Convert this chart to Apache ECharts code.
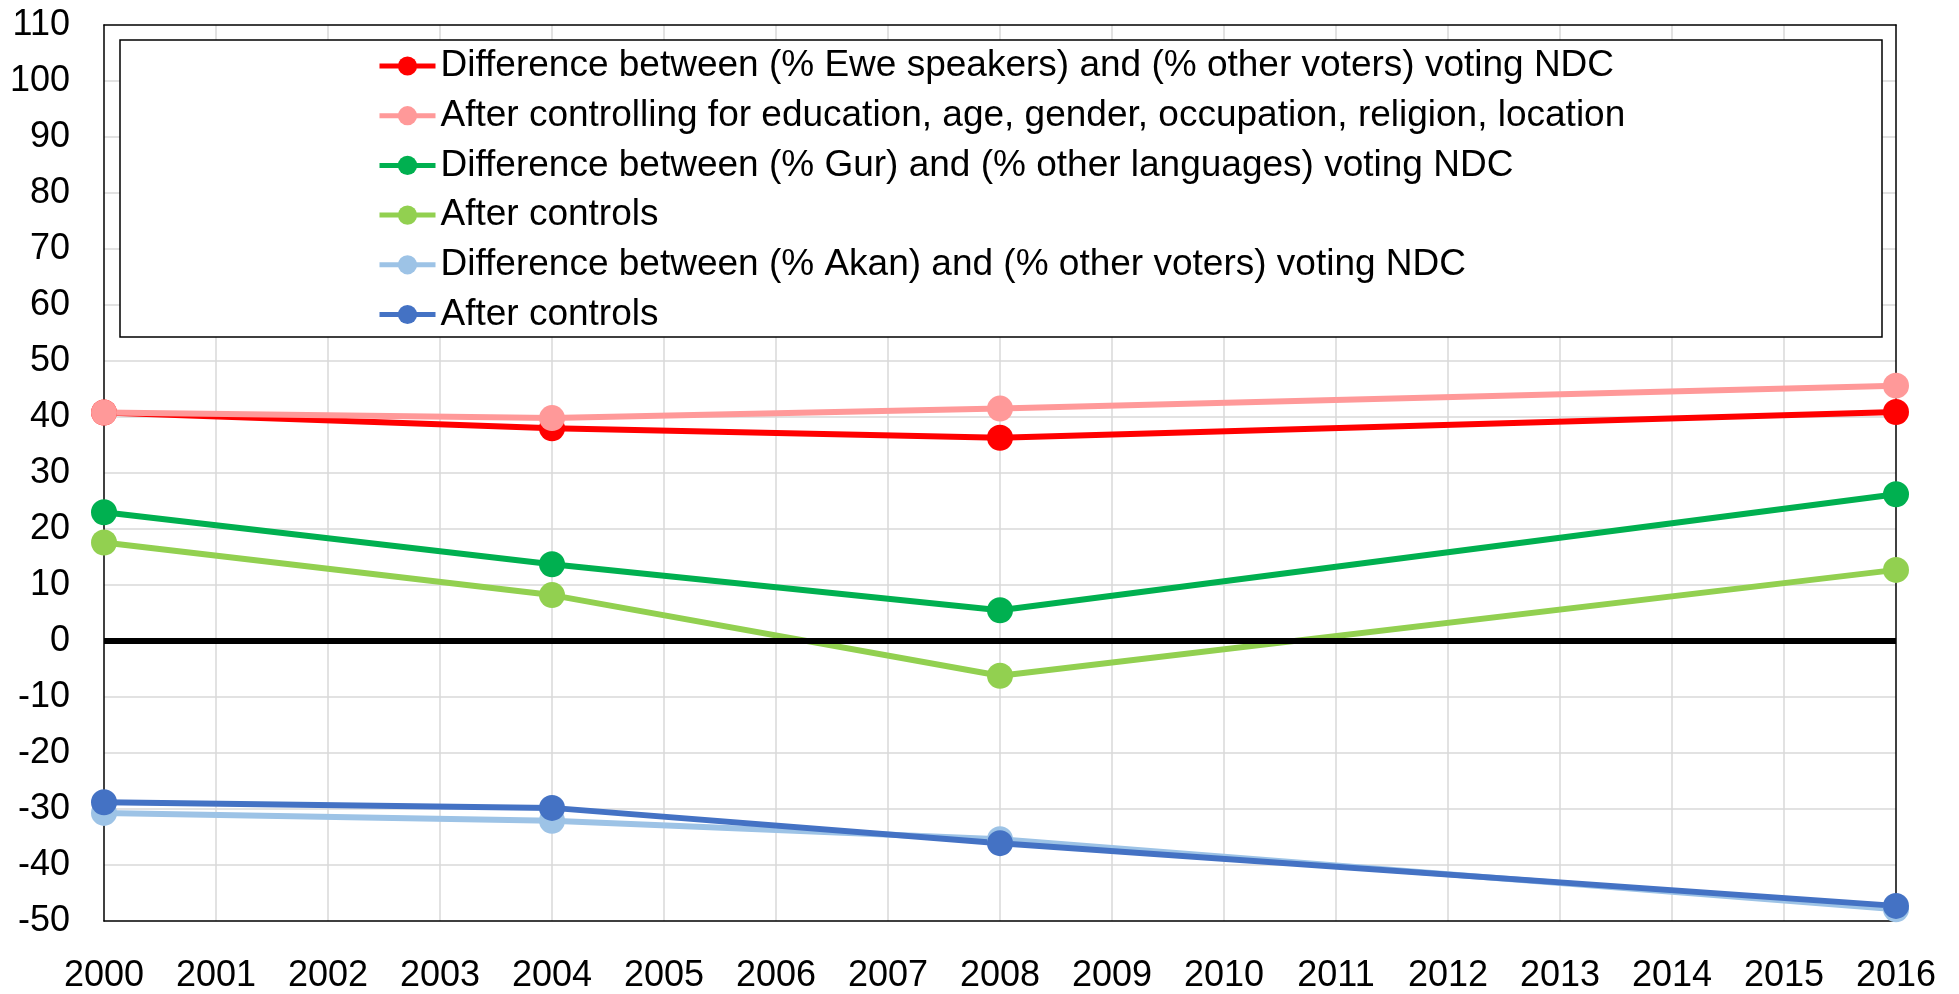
<!DOCTYPE html>
<html>
<head>
<meta charset="utf-8">
<script src="https://cdn.jsdelivr.net/npm/echarts@6/dist/echarts.min.js"></script>
<style>
html,body{margin:0;padding:0;background:#fff;}
#chart{width:1959px;height:994px;}
</style>
</head>
<body>
<div id="chart"></div>
<script>
const years = [2000, 2004, 2008, 2016];
const eweDiff = [40.8, 38.0, 36.3, 40.9];
const eweControls = [40.8, 39.8, 41.5, 45.6];
const gurDiff = [23.0, 13.7, 5.5, 26.2];
const gurControls = [17.6, 8.2, -6.2, 12.7];
const akanDiff = [-30.7, -32.1, -35.4, -47.9];
const akanControls = [-28.8, -29.8, -36.1, -47.3];

const names = [
  'Difference between (% Ewe speakers) and (% other voters) voting NDC',
  'After controlling for education, age, gender, occupation, religion, location',
  'Difference between (% Gur) and (% other languages) voting NDC',
  'After controls',
  'Difference between (% Akan) and (% other voters) voting NDC',
  'After controls '
];
const colors = ['#FF0000', '#FF9999', '#00B050', '#92D050', '#9DC3E6', '#4472C4'];
const values = [eweDiff, eweControls, gurDiff, gurControls, akanDiff, akanControls];

const FONT = '"Liberation Sans", Arial, sans-serif';

const series = [{
  name: 'zero',
  type: 'line',
  data: [],
  z: 1,
  silent: true,
  markLine: {
    silent: true,
    symbol: ['none', 'none'],
    label: {show: false},
    lineStyle: {color: '#000', width: 6, type: 'solid'},
    data: [{yAxis: 0}]
  }
}];
values.forEach((v, i) => {
  series.push({
    name: names[i],
    type: 'line',
    z: 2,
    data: years.map((y, j) => [y, v[j]]),
    symbol: 'circle',
    symbolSize: 26,
    lineStyle: {color: colors[i], width: 6},
    itemStyle: {color: colors[i]},
    animation: false
  });
});

const axisCommon = {
  axisTick: {show: false},
  axisLine: {show: true, onZero: false, lineStyle: {color: '#000', width: 1.5}}
};

const chart = echarts.init(document.getElementById('chart'));
chart.setOption({
  animation: false,
  backgroundColor: '#fff',
  textStyle: {fontFamily: FONT},
  grid: {left: 104, right: 63, top: 25, bottom: 73},
  xAxis: [{
    type: 'value', min: 2000, max: 2016, interval: 1, position: 'bottom',
    ...axisCommon,
    axisLabel: {color: '#000', fontSize: 36, fontFamily: FONT, margin: 37, formatter: v => String(v)},
    splitLine: {show: true, showMinLine: false, showMaxLine: false, lineStyle: {color: '#D9D9D9', width: 1.5}}
  }, {
    type: 'value', min: 2000, max: 2016, interval: 1, position: 'top',
    ...axisCommon,
    axisLabel: {show: false},
    splitLine: {show: false}
  }],
  yAxis: [{
    type: 'value', min: -50, max: 110, interval: 10, position: 'left',
    ...axisCommon,
    axisLabel: {color: '#000', fontSize: 36, fontFamily: FONT, margin: 34},
    splitLine: {show: true, showMinLine: false, showMaxLine: false, lineStyle: {color: '#D9D9D9', width: 1.5}}
  }, {
    type: 'value', min: -50, max: 110, interval: 10, position: 'right',
    ...axisCommon,
    axisLabel: {show: false},
    splitLine: {show: false}
  }],
  graphic: [{
    type: 'rect', z: 4,
    shape: {x: 120, y: 40, width: 1762, height: 297},
    style: {fill: '#fff', stroke: '#000', lineWidth: 1.5}
  }],
  legend: {
    z: 5,
    orient: 'vertical',
    left: 377, top: 47,
    data: names,
    itemWidth: 56, itemHeight: 24,
    itemGap: 11.7,
    padding: 0,
    lineStyle: {width: 5},
    textStyle: {color: '#000', fontSize: 37, fontFamily: FONT, lineHeight: 38}
  },
  series: series
});
</script>
</body>
</html>
